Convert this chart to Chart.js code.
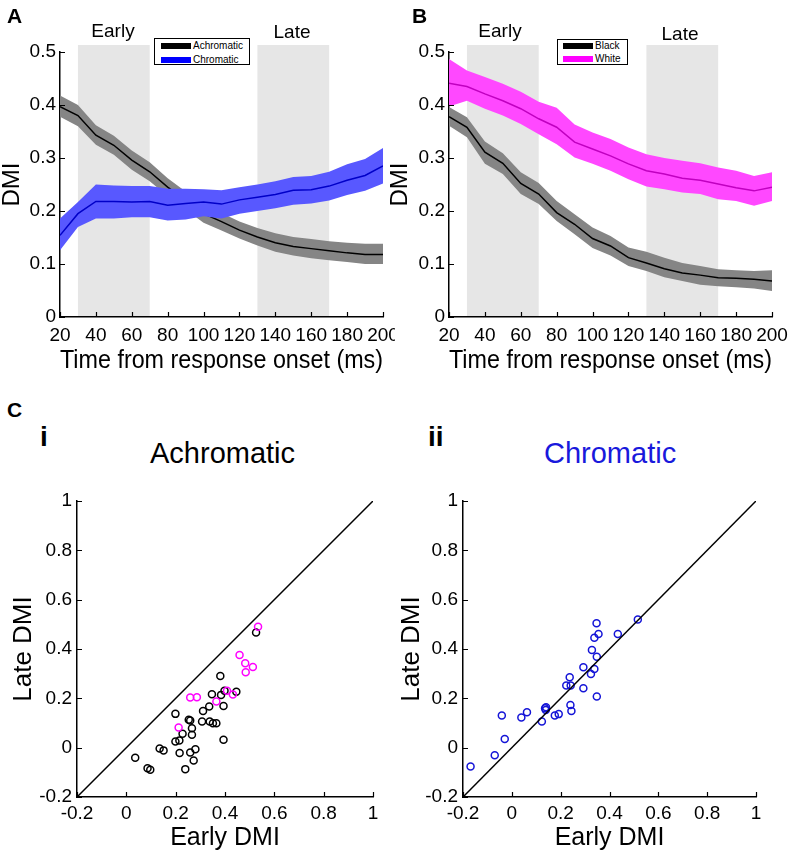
<!DOCTYPE html>
<html><head><meta charset="utf-8">
<script src="https://cdn.jsdelivr.net/npm/chart.js@4"></script>
<style>
body{margin:0;background:#fff;width:790px;height:853px;position:relative;overflow:hidden;font-family:'Liberation Sans',Arial,sans-serif;}
canvas{position:absolute;}
.t{position:absolute;line-height:1;white-space:nowrap;color:#000;}
.c{transform:translateX(-50%);}
.b{font-weight:bold;}
.legend{position:absolute;box-sizing:border-box;border:1px solid #000;background:#fff;z-index:5;}
.sw{position:absolute;height:6px;width:30px;}
.lt{position:absolute;font-size:10px;line-height:10px;white-space:nowrap;}
</style></head><body>
<canvas id="cA" width="395" height="380" style="left:0;top:0"></canvas>
<canvas id="cB" width="405" height="380" style="left:385px;top:0"></canvas>
<canvas id="cCi" width="395" height="373" style="left:0;top:480px"></canvas>
<canvas id="cCii" width="395" height="373" style="left:395px;top:480px"></canvas>

<div class="t b" style="left:7px;top:5px;font-size:21px">A</div>
<div class="t b" style="left:412px;top:5px;font-size:21px">B</div>
<div class="t b" style="left:7px;top:399px;font-size:21px">C</div>
<div class="t b" style="left:40px;top:423px;font-size:28px">i</div>
<div class="t b" style="left:428px;top:423px;font-size:28px">ii</div>
<div class="t" style="left:150px;top:439px;font-size:29px">Achromatic</div>
<div class="t" style="left:544px;top:439px;font-size:29px;color:rgb(25,25,220)">Chromatic</div>
<div class="t c" style="left:113px;top:21px;font-size:19px">Early</div>
<div class="t c" style="left:292px;top:22px;font-size:19px">Late</div>
<div class="t c" style="left:500px;top:21px;font-size:19px">Early</div>
<div class="t c" style="left:680px;top:24px;font-size:19px">Late</div>

<div class="legend" style="left:154px;top:38px;width:96px;height:27px">
  <div class="sw" style="left:6px;top:4px;background:#000"></div><div class="lt" style="left:38px;top:2px">Achromatic</div>
  <div class="sw" style="left:6px;top:18px;background:#0000ff"></div><div class="lt" style="left:38px;top:16px">Chromatic</div>
</div>
<div class="legend" style="left:557px;top:39px;width:71px;height:26px">
  <div class="sw" style="left:5px;top:3px;background:#000"></div><div class="lt" style="left:37px;top:1px">Black</div>
  <div class="sw" style="left:5px;top:16px;background:#ff00ff"></div><div class="lt" style="left:37px;top:14px">White</div>
</div>

<script>
// ---- Data ----
const time = [20,30,40,50,60,70,80,90,100,110,120,130,140,150,160,170,180,190,200];
const earlyWindow = [30,70];
const lateWindow = [130,170];
const timeTicks = [20,40,60,80,100,120,140,160,180,200];
const dmiTicks = [0,0.1,0.2,0.3,0.4,0.5];
const scatterTicks = [-0.2,0,0.2,0.4,0.6,0.8,1];
const identityLine = [-0.2,1];

// Panel A
const achroMean  = [0.397,0.380,0.343,0.324,0.296,0.274,0.245,0.220,0.195,0.180,0.164,0.151,0.140,0.133,0.129,0.125,0.121,0.118,0.118];
const achroUpper = [0.418,0.400,0.362,0.342,0.314,0.292,0.262,0.237,0.212,0.196,0.180,0.168,0.158,0.151,0.147,0.143,0.140,0.138,0.138];
const achroLower = [0.378,0.360,0.325,0.306,0.278,0.256,0.228,0.203,0.178,0.163,0.148,0.135,0.123,0.116,0.111,0.107,0.104,0.100,0.100];
const chromMean  = [0.154,0.195,0.218,0.218,0.217,0.218,0.211,0.214,0.217,0.213,0.221,0.226,0.231,0.239,0.240,0.247,0.258,0.267,0.285];
const chromUpper = [0.186,0.217,0.250,0.248,0.247,0.247,0.242,0.242,0.241,0.239,0.245,0.250,0.256,0.264,0.266,0.274,0.288,0.298,0.319];
const chromLower = [0.126,0.170,0.186,0.186,0.188,0.188,0.182,0.184,0.190,0.186,0.195,0.200,0.205,0.212,0.214,0.220,0.230,0.238,0.252];

// Panel B
const whiteMean  = [0.441,0.435,0.421,0.408,0.393,0.374,0.358,0.330,0.317,0.304,0.289,0.276,0.270,0.262,0.258,0.251,0.244,0.238,0.245];
const whiteUpper = [0.487,0.465,0.453,0.440,0.425,0.406,0.395,0.363,0.348,0.336,0.320,0.307,0.300,0.295,0.290,0.282,0.276,0.266,0.273];
const whiteLower = [0.397,0.408,0.393,0.380,0.364,0.345,0.326,0.301,0.289,0.276,0.260,0.246,0.241,0.235,0.232,0.222,0.219,0.210,0.219];
const blackMean  = [0.378,0.358,0.311,0.290,0.252,0.232,0.197,0.175,0.148,0.134,0.112,0.102,0.091,0.083,0.079,0.074,0.073,0.071,0.068];
const blackUpper = [0.396,0.377,0.331,0.309,0.273,0.253,0.219,0.194,0.169,0.153,0.131,0.123,0.112,0.102,0.096,0.090,0.088,0.087,0.088];
const blackLower = [0.361,0.339,0.289,0.270,0.232,0.213,0.181,0.156,0.130,0.116,0.096,0.087,0.075,0.068,0.061,0.058,0.056,0.054,0.049];

// Panel C i (Achromatic): black cells and magenta cells
const achroBlackEarly = [0.036,0.086,0.097,0.135,0.151,0.199,0.199,0.215,0.216,0.228,0.239,0.253,0.259,0.266,0.266,0.259,0.280,0.273,0.311,0.307,0.336,0.347,0.338,0.351,0.365,0.381,0.384,0.398,0.394,0.394,0.446,0.526];
const achroBlackLate  = [-0.041,-0.083,-0.090,-0.003,-0.011,0.137,0.025,0.029,-0.022,0.056,-0.087,0.113,0.110,0.079,0.052,-0.020,-0.006,-0.052,0.149,0.106,0.167,0.217,0.106,0.099,0.099,0.291,0.214,0.231,0.169,0.032,0.227,0.467];
const achroMagEarly = [0.212,0.259,0.286,0.365,0.408,0.432,0.459,0.482,0.484,0.513,0.534];
const achroMagLate  = [0.082,0.203,0.204,0.187,0.231,0.216,0.376,0.342,0.306,0.327,0.490];

// Panel C ii (Chromatic)
const chromEarly = [-0.169,-0.070,-0.041,-0.029,0.039,0.062,0.123,0.136,0.140,0.139,0.176,0.192,0.223,0.237,0.241,0.240,0.244,0.293,0.293,0.324,0.328,0.338,0.338,0.347,0.348,0.348,0.355,0.434,0.516];
const chromLate  = [-0.076,-0.031,0.130,0.035,0.122,0.144,0.106,0.160,0.164,0.153,0.130,0.136,0.252,0.285,0.252,0.173,0.149,0.241,0.326,0.299,0.396,0.319,0.446,0.504,0.369,0.207,0.461,0.461,0.520];

// ---- Rendering ----
const FONT = "'Liberation Sans', Arial, sans-serif";
Chart.defaults.font.family = FONT;
Chart.defaults.color = '#000';

const xy = (xs, ys) => xs.map((x, i) => ({x: x, y: ys[i]}));
const fmt = v => String(v);

const inwardTicks = {
  id: 'inwardTicks',
  afterDraw(chart) {
    const ctx = chart.ctx, a = chart.chartArea;
    const xs = chart.scales.x, ys = chart.scales.y;
    ctx.save();
    ctx.strokeStyle = '#000';
    ctx.lineWidth = 1.2;
    ctx.beginPath();
    xs.ticks.forEach(t => { const p = Math.round(xs.getPixelForValue(t.value)) + 0.5; ctx.moveTo(p, a.bottom); ctx.lineTo(p, a.bottom - 5); });
    ys.ticks.forEach(t => { const p = Math.round(ys.getPixelForValue(t.value)) + 0.5; ctx.moveTo(a.left, p); ctx.lineTo(a.left + 5, p); });
    ctx.stroke();
    ctx.restore();
  }
};

const windows = {
  id: 'windows',
  beforeDraw(chart, args, opts) {
    if (!opts || !opts.spans) return;
    const ctx = chart.ctx, a = chart.chartArea, xs = chart.scales.x;
    ctx.save();
    ctx.fillStyle = '#e6e6e6';
    opts.spans.forEach(s => {
      const x1 = xs.getPixelForValue(s[0]), x2 = xs.getPixelForValue(s[1]);
      ctx.fillRect(x1, a.top - 7, x2 - x1, a.bottom - (a.top - 7) - 1);
    });
    ctx.restore();
  }
};

function axisX(opts) {
  return {
    type: 'linear', min: opts.min, max: opts.max,
    grid: {display: false, drawTicks: false, tickLength: 0},
    border: {display: true, color: '#000', width: 1.5},
    ticks: {font: {size: 19}, padding: opts.tickPad, maxRotation: 0, autoSkip: false, callback: fmt},
    afterBuildTicks: s => { s.ticks = opts.ticks.map(v => ({value: v})); },
    afterFit: s => { s.height = opts.height; s.paddingLeft = 0; s.paddingRight = 0; },
    title: {display: true, text: opts.title, font: {size: opts.titleSize, lineHeight: 1}, padding: {top: 0, bottom: opts.titlePad}}
  };
}
function axisY(opts) {
  return {
    type: 'linear', min: opts.min, max: opts.max,
    grid: {display: false, drawTicks: false, tickLength: 0},
    border: {display: true, color: '#000', width: 1.5},
    ticks: {font: {size: 19}, padding: opts.tickPad, autoSkip: false, callback: fmt},
    afterBuildTicks: s => { s.ticks = opts.ticks.map(v => ({value: v})); },
    afterFit: s => { s.width = opts.width; s.paddingTop = 0; s.paddingBottom = 0; },
    title: {display: true, text: opts.title, font: {size: opts.titleSize, lineHeight: 1}, padding: {top: opts.titlePad, bottom: 0}}
  };
}

function band(data, color, order, fillTarget) {
  return {data: data, borderWidth: 0, pointRadius: 0, backgroundColor: color, borderColor: color,
          fill: fillTarget, order: order, tension: 0};
}
function meanLine(data, color, order) {
  return {data: data, borderWidth: 1.5, pointRadius: 0, borderColor: color, fill: false, order: order, tension: 0};
}

function timeChart(id, padRight, yWidth, yTitlePad, datasets) {
  return new Chart(document.getElementById(id), {
    type: 'line',
    data: {datasets: datasets},
    options: {
      responsive: false, maintainAspectRatio: false, animation: false, devicePixelRatio: 1,
      layout: {padding: {top: 52, right: padRight, left: 0, bottom: 0}},
      plugins: {legend: {display: false}, tooltip: {enabled: false}, windows: {spans: [earlyWindow, lateWindow]}},
      scales: {
        x: axisX({min: 20, max: 200, ticks: timeTicks, height: 63, tickPad: 7, title: 'Time from response onset (ms)', titleSize: 25, titlePad: 6}),
        y: axisY({min: 0, max: 0.5, ticks: dmiTicks, width: yWidth, tickPad: 4, title: 'DMI', titleSize: 24, titlePad: yTitlePad})
      }
    },
    plugins: [windows, inwardTicks]
  });
}

// Panel A
timeChart('cA', 12, 60, 0, [
  meanLine(xy(time, chromMean), '#0000c8', 0),
  band(xy(time, chromUpper), '#5858ff', 1, '+1'),
  band(xy(time, chromLower), '#5858ff', 1, false),
  meanLine(xy(time, achroMean), '#000', 2),
  band(xy(time, achroUpper), '#858585', 3, '+1'),
  band(xy(time, achroLower), '#858585', 3, false)
]);

// Panel B
timeChart('cB', 18, 64, 3, [
  meanLine(xy(time, whiteMean), '#c000c0', 0),
  band(xy(time, whiteUpper), '#ff48ff', 1, '+1'),
  band(xy(time, whiteLower), '#ff48ff', 1, false),
  meanLine(xy(time, blackMean), '#000', 2),
  band(xy(time, blackUpper), '#858585', 3, '+1'),
  band(xy(time, blackLower), '#858585', 3, false)
]);

function pts(xs, ys, color) {
  return {data: xy(xs, ys), showLine: false, pointStyle: 'circle', pointRadius: 3.5, pointBorderWidth: 1.5,
          borderColor: color, backgroundColor: 'rgba(0,0,0,0)', pointBackgroundColor: 'rgba(0,0,0,0)', pointBorderColor: color};
}
function diag() {
  return {data: xy(identityLine, identityLine), showLine: true, pointRadius: 0, borderColor: '#000', borderWidth: 1.5, fill: false};
}

function scatterChart(id, padRight, yWidth, yTitlePad, datasets) {
  return new Chart(document.getElementById(id), {
    type: 'scatter',
    data: {datasets: datasets},
    options: {
      responsive: false, maintainAspectRatio: false, animation: false, devicePixelRatio: 1,
      layout: {padding: {top: 21, right: padRight, left: 0, bottom: 0}},
      plugins: {legend: {display: false}, tooltip: {enabled: false}},
      scales: {
        x: axisX({min: -0.2, max: 1, ticks: scatterTicks, height: 56, tickPad: 5, title: 'Early DMI', titleSize: 25, titlePad: 2}),
        y: axisY({min: -0.2, max: 1, ticks: scatterTicks, width: yWidth, tickPad: 5, title: 'Late DMI', titleSize: 26, titlePad: yTitlePad})
      }
    },
    plugins: [inwardTicks]
  });
}

scatterChart('cCi', 22, 77, 11, [
  diag(),
  pts(achroMagEarly, achroMagLate, '#ff00ff'),
  pts(achroBlackEarly, achroBlackLate, '#000')
]);
scatterChart('cCii', 34, 68, 4, [
  diag(),
  pts(chromEarly, chromLate, 'rgb(20,20,215)')
]);
</script>
</body></html>
